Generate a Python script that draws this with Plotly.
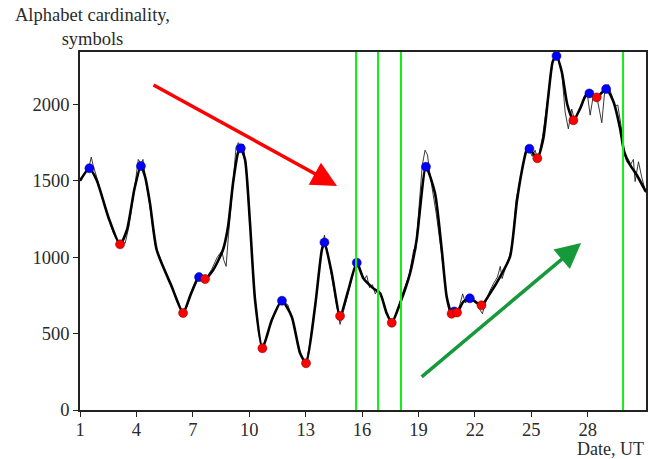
import plotly.graph_objects as go

# Raw (thin) series
raw_x = [1.0, 1.2, 1.35, 1.5, 1.6, 1.7, 1.9, 2.2, 2.5, 2.8, 3.1, 3.3, 3.4, 3.6, 3.9, 4.1, 4.25, 4.35, 4.5, 4.7,
         5.0, 5.3, 5.6, 5.9, 6.2, 6.48, 6.7, 7.0, 7.2, 7.4, 7.6, 7.8, 8.0, 8.3, 8.54, 8.65, 8.77, 8.9, 9.1, 9.3,
         9.42, 9.55, 9.69, 9.85, 10.05, 10.3, 10.5, 10.68, 10.9, 11.2, 11.5, 11.74, 11.9, 12.05, 12.3, 12.7, 13.0,
         13.2, 13.5, 13.8, 14.0, 14.2, 14.4, 14.65, 14.83, 15.0, 15.3, 15.6, 15.75, 15.9, 16.1, 16.25, 16.4, 16.55,
         16.7, 16.85, 17.0, 17.3, 17.55, 17.8, 18.0, 18.2, 18.5, 18.75, 18.85, 19.0, 19.2, 19.35, 19.48, 19.6, 19.8,
         19.95, 20.2, 20.5, 20.7, 20.85, 21.0, 21.2, 21.35, 21.5, 21.73, 21.9, 22.1, 22.3, 22.4, 22.55, 22.8, 23.0,
         23.2, 23.35, 23.45, 23.7, 23.87, 24.0, 24.2, 24.5, 24.75, 24.9, 25.05, 25.2, 25.35, 25.6, 25.9, 26.15,
         26.3, 26.45, 26.62, 26.8, 26.97, 27.15, 27.33, 27.5, 27.7, 27.95, 28.13, 28.3, 28.5, 28.75, 28.9, 29.1,
         29.3, 29.45, 29.6, 29.78, 29.9, 30.07, 30.25, 30.43, 30.52, 30.7, 30.88, 31.1]
raw_y = [1500, 1540, 1560, 1600, 1655, 1600, 1520, 1380, 1260, 1150, 1085, 1100, 1090, 1200, 1450, 1640, 1610, 1640, 1500, 1350,
         1080, 980, 880, 800, 720, 630, 680, 800, 860, 880, 850, 880, 920, 1000, 1040, 980, 940, 1150, 1450, 1720,
         1750, 1720, 1740, 1550, 1200, 730, 500, 410, 470, 590, 680, 725, 700, 690, 590, 380, 300,
         420, 680, 1000, 1145, 1000, 880, 700, 560, 640, 790, 930, 985, 930, 850, 880, 800, 820,
         760, 790, 760, 640, 560, 620, 700, 780, 880, 1050, 1040, 1300, 1600, 1700, 1670, 1550, 1400,
         1280, 1050, 740, 620, 660, 620, 690, 760, 700, 735, 720, 700, 650, 630, 700, 780, 830,
         870, 940, 860, 960, 1020, 1100, 1380, 1570, 1730, 1700, 1660, 1700, 1640, 1790, 2060, 2290,
         2330, 2290, 2210, 1950, 1840, 1970, 1880, 1950, 2000, 2095, 1930, 2060, 2040, 1880, 2080, 2130,
         2050, 1990, 1996, 1854, 1700, 1625, 1600, 1640, 1495, 1625, 1520, 1420]

# Smoothed (thick) series
smooth_x = [1.0, 1.5, 1.9, 2.5, 3.13, 3.5, 3.9, 4.24, 4.46, 4.72, 5.08, 5.88, 6.48, 6.9, 7.33, 7.65, 8.08, 8.6,
            8.87, 9.14, 9.4, 9.55, 9.78, 10.04, 10.31, 10.7, 11.2, 11.74, 12.26, 12.7, 13.02, 13.5, 13.86, 14.0,
            14.39, 14.83, 15.27, 15.72, 16.07, 16.6, 16.96, 17.31, 17.58, 18.02, 18.55, 18.9, 19.4, 19.88, 20.24,
            20.5, 20.76, 20.9, 21.05, 21.39, 21.73, 22.35, 22.81, 23.34, 23.87, 24.23, 24.49, 24.76, 24.9, 25.32,
            25.64, 25.91, 26.14, 26.34, 26.62, 26.92, 27.24, 27.6, 27.86, 28.09, 28.48, 28.98, 29.37, 29.72, 29.94,
            30.26, 30.61, 31.09]
smooth_y = [1500, 1582, 1500, 1265, 1084, 1180, 1450, 1597, 1527, 1354, 1047, 807, 635, 760, 870, 857, 916, 1047,
            1198, 1486, 1682, 1713, 1636, 1224, 720, 404, 589, 715, 611, 373, 306, 676, 1047, 1097,
            894, 615, 785, 964, 862, 796, 764, 633, 571, 698, 894, 1112, 1592, 1418, 1047,
            742, 630, 645, 638, 709, 731, 685, 764, 872, 1003, 1363, 1560, 1702, 1710, 1647,
            1777, 2061, 2280, 2317, 2214, 1996, 1896, 1974, 2051, 2072, 2046, 2101, 2018, 1844, 1690,
            1603, 1538, 1429]

# Extrema
max_x = [1.5, 4.24, 7.33, 9.55, 11.74, 14.0, 15.72, 19.4, 20.9, 21.73, 24.9, 26.34, 28.09, 28.98]
max_y = [1582, 1597, 870, 1713, 715, 1097, 964, 1592, 645, 731, 1710, 2317, 2072, 2101]
min_x = [3.13, 6.48, 7.65, 10.7, 13.02, 14.83, 17.58, 20.76, 21.05, 22.35, 25.32, 27.24, 28.48]
min_y = [1084, 635, 857, 404, 306, 615, 571, 630, 638, 685, 1647, 1896, 2046]

# Event lines (dates)
event_x = [15.68, 16.85, 18.07, 29.88]

x_ticks = [1, 4, 7, 10, 13, 16, 19, 22, 25, 28]
y_ticks = [0, 500, 1000, 1500, 2000]

# Trend arrows: (tail_x, tail_y, tip_x, tip_y)
arrow_down = (4.83, 2133, 14.67, 1466)
arrow_up = (19.09, 209, 27.65, 1093)

fig = go.Figure()
fig.add_trace(go.Scatter(x=raw_x, y=raw_y, mode="lines",
                         line=dict(color="#222222", width=0.9), hoverinfo="skip"))
fig.add_trace(go.Scatter(x=smooth_x, y=smooth_y, mode="lines",
                         line=dict(color="black", width=2.6, shape="spline", smoothing=0.6)))
fig.add_trace(go.Scatter(x=max_x, y=max_y, mode="markers",
                         marker=dict(color="#0000ff", size=9, line=dict(color="#000066", width=0.5))))
fig.add_trace(go.Scatter(x=min_x, y=min_y, mode="markers",
                         marker=dict(color="#ff0000", size=9, line=dict(color="#660000", width=0.5))))

for ex in event_x:
    fig.add_shape(type="line", x0=ex, x1=ex, y0=0, y1=1, xref="x", yref="paper",
                  line=dict(color="#11ee11", width=2), layer="above")

for (tx, ty, hx, hy), col in [(arrow_down, "#ff0000"), (arrow_up, "#16993a")]:
    fig.add_annotation(x=hx, y=hy, ax=tx, ay=ty, xref="x", yref="y", axref="x", ayref="y",
                       text="", showarrow=True, arrowhead=2, arrowsize=1.45, arrowwidth=3.5,
                       arrowcolor=col, standoff=0)

font = dict(family="Liberation Serif", size=18.5, color="#2a2a2a")
font_x = dict(family="Liberation Serif", size=18, color="#2a2a2a")
fig.add_annotation(text="Alphabet cardinality,<br>symbols", xref="paper", yref="paper",
                   x=(92 - 80) / 566, y=1 + (52 - 3) / 358, xanchor="center", yanchor="top",
                   showarrow=False, font=font, align="center")
fig.add_annotation(text="Date, UT", xref="paper", yref="paper", x=1, y=-(449 - 410) / 358,
                   xanchor="right", yanchor="middle", showarrow=False, font=font_x)

fig.update_layout(
    width=659, height=459, margin=dict(l=80, r=13, t=52, b=49),
    paper_bgcolor="white", plot_bgcolor="white", showlegend=False, font=font,
)
fig.update_xaxes(range=[1, 31.1], tickvals=x_ticks, ticktext=[str(v) for v in x_ticks],
                 showgrid=False, zeroline=False, showline=True, mirror=True, linecolor="#222222",
                 linewidth=1.5, ticks="outside", ticklen=5, tickcolor="#222222", tickfont=font,
                 ticklabelstandoff=-3)
fig.update_yaxes(range=[0, 2343], tickvals=y_ticks, showgrid=False, zeroline=False, showline=True,
                 mirror=True, linecolor="#222222", linewidth=1.5, ticks="outside", ticklen=5,
                 tickcolor="#222222", tickfont=font)

fig.write_html("out.html", config={"displayModeBar": False},
               post_script="document.body.style.margin='0';document.body.style.overflow='hidden';")
